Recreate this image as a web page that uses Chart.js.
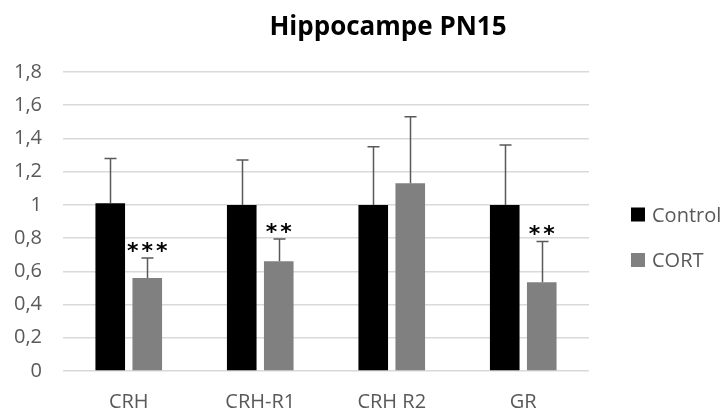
<!DOCTYPE html>
<html>
<head>
<meta charset="utf-8">
<script src="https://cdn.jsdelivr.net/npm/chart.js@4.4.1/dist/chart.umd.min.js"></script>
<style>
  html, body { margin: 0; padding: 0; background: #fff; }
  #wrap { width: 724px; height: 412px; position: relative; }
</style>
</head>
<body>
<div id="wrap"><canvas id="c" width="724" height="412"></canvas></div>
<script>
// Relative expression in hippocampus at PN15
const categories = ['CRH', 'CRH-R1', 'CRH R2', 'GR'];
const controlValues = [1.01, 1.0, 1.0, 1.0];
const controlErrors = [0.27, 0.27, 0.35, 0.36];
const cortValues = [0.56, 0.66, 1.13, 0.535];
const cortErrors = [0.12, 0.135, 0.40, 0.245];
const cortSignificance = ['***', '**', '', '**'];
const yTicks = [0, 0.2, 0.4, 0.6, 0.8, 1, 1.2, 1.4, 1.6, 1.8];
const chartTitle = 'Hippocampe PN15';

const FONT = '"Open Sans", "Noto Sans", sans-serif';
const GREY_TEXT = '#595959';

// Upper error whiskers, drawn from each bar's own element position
const errorBars = {
  id: 'errorBars',
  afterDatasetsDraw(chart) {
    const { ctx, scales: { y } } = chart;
    ctx.save();
    ctx.strokeStyle = '#595959';
    ctx.lineWidth = 1.5;
    chart.data.datasets.forEach((ds, di) => {
      const meta = chart.getDatasetMeta(di);
      meta.data.forEach((bar, i) => {
        const top = y.getPixelForValue(ds.data[i] + ds.errors[i]);
        const x = Math.round(bar.x) + 0.5;
        ctx.beginPath();
        ctx.moveTo(x, bar.y);
        ctx.lineTo(x, top);
        ctx.moveTo(x - 6, top);
        ctx.lineTo(x + 6, top);
        ctx.stroke();
      });
    });
    ctx.restore();
  }
};

// Significance stars above the CORT whiskers
const stars = {
  id: 'stars',
  afterDatasetsDraw(chart) {
    const { ctx, scales: { y } } = chart;
    const ds = chart.data.datasets[1];
    const meta = chart.getDatasetMeta(1);
    ctx.save();
    ctx.fillStyle = '#000';
    ctx.font = 'bold 22px "DejaVu Sans", sans-serif';
    ctx.textAlign = 'center';
    ctx.textBaseline = 'alphabetic';
    if ('letterSpacing' in ctx) ctx.letterSpacing = '3px';
    meta.data.forEach((bar, i) => {
      const s = ds.significance[i];
      if (!s) return;
      const top = y.getPixelForValue(ds.data[i] + ds.errors[i]);
      ctx.fillText(s, bar.x + 1.5, top);
    });
    ctx.restore();
  }
};

// Title centred over plot + legend block
const titleDraw = {
  id: 'titleDraw',
  afterDraw(chart) {
    const { ctx } = chart;
    ctx.save();
    ctx.fillStyle = '#000';
    ctx.font = 'bold 26px ' + FONT;
    ctx.textAlign = 'center';
    ctx.textBaseline = 'alphabetic';
    ctx.fillText(chartTitle, 388, 35);
    ctx.restore();
  }
};

// Vertical legend on the right, from the dataset labels and colours
const sideLegend = {
  id: 'sideLegend',
  afterDraw(chart) {
    const { ctx } = chart;
    ctx.save();
    ctx.font = '20px ' + FONT;
    ctx.textBaseline = 'alphabetic';
    chart.data.datasets.forEach((ds, i) => {
      const base = 221.5 + i * 45.5;
      ctx.fillStyle = ds.backgroundColor;
      ctx.fillRect(631, base - 14, 14, 14);
      ctx.fillStyle = GREY_TEXT;
      ctx.fillText(ds.label, 652, base);
    });
    ctx.restore();
  }
};

new Chart(document.getElementById('c'), {
  type: 'bar',
  data: {
    labels: categories,
    datasets: [
      { label: 'Control', data: controlValues, errors: controlErrors, backgroundColor: '#000000' },
      { label: 'CORT', data: cortValues, errors: cortErrors, significance: cortSignificance, backgroundColor: '#808080' }
    ]
  },
  options: {
    responsive: false,
    animation: false,
    devicePixelRatio: 1,
    layout: { padding: { left: 0, right: 135, top: 72, bottom: 0 } },
    datasets: { bar: { categoryPercentage: 0.563, barPercentage: 0.8 } },
    plugins: {
      legend: { display: false },
      title: { display: false },
      tooltip: { enabled: false }
    },
    scales: {
      x: {
        afterFit(scale) { scale.height = 41; },
        grid: { display: false, drawTicks: false },
        border: { display: false },
        ticks: { color: GREY_TEXT, font: { family: FONT, size: 20 }, padding: 19 }
      },
      y: {
        min: 0,
        max: 1.8,
        afterBuildTicks(scale) { scale.ticks = yTicks.map(v => ({ value: v })); },
        afterFit(scale) { scale.width = 63; },
        grid: { color: '#d9d9d9', lineWidth: 1.5, drawTicks: false },
        border: { display: false },
        ticks: {
          color: GREY_TEXT,
          padding: 21,
          font: { family: FONT, size: 20 },
          callback: v => String(Math.round(v * 10) / 10).replace('.', ',')
        }
      }
    }
  },
  plugins: [errorBars, stars, titleDraw, sideLegend]
});
</script>
</body>
</html>
